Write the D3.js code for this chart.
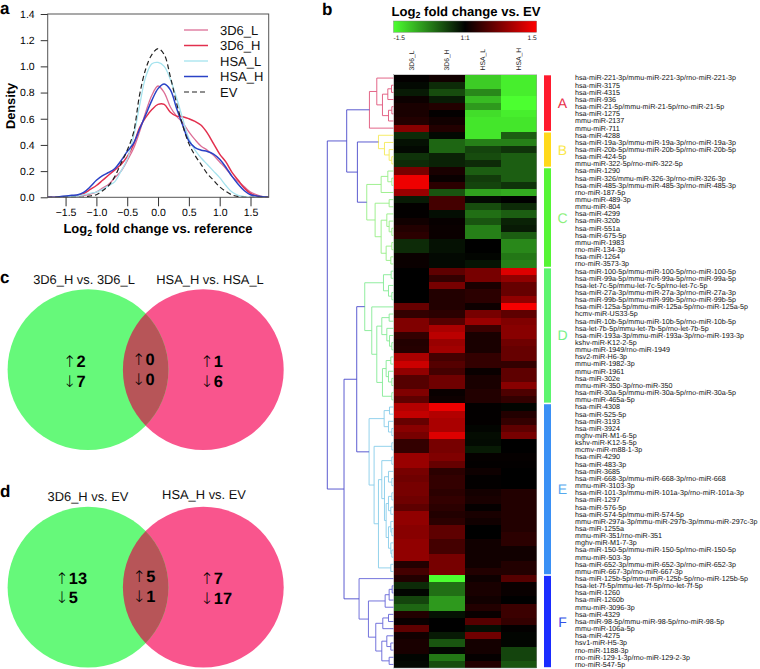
<!DOCTYPE html>
<html><head><meta charset="utf-8">
<script src="https://cdn.jsdelivr.net/npm/d3@7/dist/d3.min.js"></script>
<style>html,body{margin:0;padding:0;background:#fff}svg{display:block}text{font-family:"Liberation Sans",Arial,sans-serif;text-rendering:geometricPrecision}</style>
</head><body><svg id="c" width="760" height="669"></svg>
<script>
// ---------- density data ----------
const densityX=[-1.8,-1.7,-1.6,-1.5,-1.4,-1.3,-1.2,-1.1,-1,-.9,-.8,-.7,-.6,-.5,-.4,-.3,-.2,-.1,0,.1,.2,.3,.4,.5,.6,.7,.8,.9,1,1.1,1.2,1.3,1.4,1.5,1.6,1.7,1.8];
const d3D6_L=[0,0,.002,.005,.005,.01,.015,.025,.04,.07,.1,.15,.2,.28,.37,.5,.65,.78,.85,.8,.69,.62,.57,.5,.44,.39,.36,.32,.27,.22,.16,.12,.08,.04,.02,.005,0];
const d3D6_H=[0,0,.002,.005,.005,.015,.03,.06,.09,.13,.17,.21,.25,.31,.4,.53,.61,.67,.71,.71,.65,.62,.615,.6,.58,.55,.49,.41,.33,.27,.19,.13,.07,.03,.01,0,0];
const dHSA_L=[0,0,.002,.005,.005,.01,.02,.03,.04,.06,.09,.12,.2,.29,.46,.7,.92,1.02,1.03,1,.9,.76,.6,.45,.36,.3,.25,.2,.15,.09,.04,.015,.005,0,0,0,0];
const dHSA_H=[0,0,.005,.01,.015,.02,.04,.08,.13,.165,.19,.22,.28,.35,.41,.52,.63,.74,.83,.865,.82,.68,.55,.43,.38,.36,.35,.33,.29,.23,.16,.1,.05,.02,.01,.005,0];
const dEV=[0,0,0,0,0,0,.002,.01,.02,.05,.09,.16,.26,.36,.49,.78,.98,1.09,1.135,1.09,.92,.72,.55,.41,.32,.25,.18,.13,.08,.045,.018,.005,0,0,0,0,0];
const densityNames=["3D6_L","3D6_H","HSA_L","HSA_H","EV"];
const densitySeries=[d3D6_L,d3D6_H,dHSA_L,dHSA_H,dEV];
const densityColors=["#dc6e96","#e2304e","#a5e3ee","#2a42c6","#222"];
const densityWidths=[1.3,1.5,1.3,1.5,1.2];
const xTicks=[-1.5,-1,-.5,0,.5,1,1.5];
const yTicks=[0,.2,.4,.6,.8,1,1.2,1.4];

// ---------- heat map data (one array per column) ----------
const sampleNames=["3D6_L","3D6_H","HSA_L","HSA_H"];
const h3D6_L=[.02,-.05,-.15,.07,.15,.15,.2,.8,-.25,-.1,-.05,-.3,-.25,.7,1.4,1.4,.9,-.15,.02,.02,.1,.2,.25,-.25,-.25,.06,.06,0,0,0,0,0,.6,.3,.75,.75,.3,.2,.22,1,1.2,.85,.5,.5,.75,.55,1.05,1.15,.6,.8,.7,.3,.3,.9,.9,.7,.65,.7,.7,.65,.55,.85,.85,.8,.8,.85,.85,.85,.2,.4,.2,-.25,-.03,-.4,-.6,.2,.05,.55,.1,.15,.15,-.03,-.05];
const h3D6_H=[.1,-.25,-.45,-.15,.2,.02,.1,.2,-.05,-.6,-.6,-.2,-.2,.15,.05,.25,-.5,.4,.4,-.08,.04,.06,.06,-.1,-.1,-.05,-.05,.55,.3,.7,.2,.2,.2,.25,.5,1,1.1,.9,.95,.4,.5,.4,.65,.65,.05,.08,1.4,1.05,1,1,1.3,.7,.7,.75,.6,.25,.3,.3,.25,.3,.25,.2,.25,.55,.55,.4,.4,.7,.7,.7,-1.5,-.65,-.65,-.9,-.9,-.1,0,0,-.15,-.5,-.03,-.7,-.45];
const hHSA_L=[-1.2,-1.2,-.8,-1.1,-.9,-1.3,-1.35,-1.35,-1.35,-.75,-.4,-.45,-.25,-.55,-.35,-.4,-.95,-.05,-.45,-.65,-.5,-.75,-.75,0,0,-.03,-.12,.7,.7,.15,.25,.25,.08,.7,.9,.35,.15,.15,.15,.3,.3,.05,.15,.15,.2,.2,.02,.02,.02,-.03,-.07,-.06,-.15,.03,.02,.08,.02,.02,.12,.15,.03,.15,.1,0,0,.1,.1,.1,.1,.2,.08,.15,.15,.1,.2,.05,.5,-.08,.65,.12,.12,.03,.2];
const hHSA_H=[-1.4,-1.4,-1.4,-1.5,-1.5,-1.4,-1.35,-1.35,-.55,-.75,-.3,-.55,-.55,-.55,-.55,-.3,-1,0,-.25,-.55,-.2,-.15,-.55,-.8,-.8,-.7,-.75,1.3,.85,.6,.6,.85,1.45,.55,.75,.8,.8,.65,.6,.6,.3,.55,.55,.8,.45,.3,-.03,.2,.3,.55,.7,0,0,.03,.02,0,0,0,.2,.2,.2,.2,.2,.2,.25,.25,.1,.1,.2,.2,.5,.05,.05,0,.35,.35,.3,.02,-.03,-.03,-.4,-.4,-.5];
const heatColumns=[h3D6_L,h3D6_H,hHSA_L,hHSA_H];
const rowLabels=["hsa-miR-221-3p/mmu-miR-221-3p/rno-miR-221-3p","hsa-miR-3175","hsa-miR-4315","hsa-miR-936","hsa-miR-21-5p/mmu-miR-21-5p/rno-miR-21-5p","hsa-miR-1275","mmu-miR-2137","mmu-miR-711",
"hsa-miR-4288","hsa-miR-19a-3p/mmu-miR-19a-3p/rno-miR-19a-3p","hsa-miR-20b-5p/mmu-miR-20b-5p/rno-miR-20b-5p","hsa-miR-424-5p","mmu-miR-322-5p/rno-miR-322-5p",
"hsa-miR-1290","hsa-miR-326/mmu-miR-326-3p/rno-miR-326-3p","hsa-miR-485-3p/mmu-miR-485-3p/rno-miR-485-3p","rno-miR-187-5p","mmu-miR-489-3p","mmu-miR-804","hsa-miR-4299","hsa-miR-320b","hsa-miR-551a","hsa-miR-675-5p","mmu-miR-1983","rno-miR-134-3p","hsa-miR-1264","rno-miR-3573-3p",
"hsa-miR-100-5p/mmu-miR-100-5p/rno-miR-100-5p","hsa-miR-99a-5p/mmu-miR-99a-5p/rno-miR-99a-5p","hsa-let-7c-5p/mmu-let-7c-5p/rno-let-7c-5p","hsa-miR-27a-3p/mmu-miR-27a-3p/rno-miR-27a-3p","hsa-miR-99b-5p/mmu-miR-99b-5p/rno-miR-99b-5p","hsa-miR-125a-5p/mmu-miR-125a-5p/rno-miR-125a-5p","hcmv-miR-US33-5p","hsa-miR-10b-5p/mmu-miR-10b-5p/rno-miR-10b-5p","hsa-let-7b-5p/mmu-let-7b-5p/rno-let-7b-5p","hsa-miR-193a-3p/mmu-miR-193a-3p/rno-miR-193-3p","kshv-miR-K12-2-5p","mmu-miR-1949/rno-miR-1949","hsv2-miR-H6-3p","mmu-miR-1982-3p","mmu-miR-1961","hsa-miR-302e","mmu-miR-350-3p/rno-miR-350","hsa-miR-30a-5p/mmu-miR-30a-5p/rno-miR-30a-5p","mmu-miR-465a-5p",
"hsa-miR-4308","hsa-miR-525-5p","hsa-miR-3193","hsa-miR-3924","mghv-miR-M1-6-5p","kshv-miR-K12-5-5p","mcmv-miR-m88-1-3p","hsa-miR-4290","hsa-miR-483-3p","hsa-miR-3685","hsa-miR-668-3p/mmu-miR-668-3p/rno-miR-668","mmu-miR-3103-3p","hsa-miR-101-3p/mmu-miR-101a-3p/rno-miR-101a-3p","hsa-miR-1297","hsa-miR-576-5p","hsa-miR-574-5p/mmu-miR-574-5p","mmu-miR-297a-3p/mmu-miR-297b-3p/mmu-miR-297c-3p","hsa-miR-1255a","mmu-miR-351/rno-miR-351","mghv-miR-M1-7-3p","hsa-miR-150-5p/mmu-miR-150-5p/rno-miR-150-5p","mmu-miR-503-3p","hsa-miR-652-3p/mmu-miR-652-3p/rno-miR-652-3p","mmu-miR-667-3p/rno-miR-667-3p",
"hsa-miR-125b-5p/mmu-miR-125b-5p/rno-miR-125b-5p","hsa-let-7f-5p/mmu-let-7f-5p/rno-let-7f-5p","hsa-miR-1260","hsa-miR-1260b","mmu-miR-3096-3p","hsa-miR-4329","hsa-miR-98-5p/mmu-miR-98-5p/rno-miR-98-5p","mmu-miR-106a-5p","hsa-miR-4275","hsv1-miR-H5-3p","rno-miR-1188-3p","rno-miR-129-1-3p/rno-miR-129-2-3p","rno-miR-547-5p"];

// clusters: name, first row, last row
const clusterNames=["A","B","C","D","E","F"];
const clusterFirst=[0,8,13,27,46,70];
const clusterLast=[7,12,26,45,69,82];
const clusterBarColors=["#ff1a2e","#ffd91a","#55f535","#5cf56e","#3a90f5","#1a2cff"];
const clusterLetterColors=["#e8304a","#fbe84a","#8df07c","#74f088","#55a8ee","#3350e6"];
const clusterTreeColors=["#e0557a","#f5ea58","#95ee85","#85eb95","#88cdea","#6464d8"];
const stemColor="#4a4acb";

// dendrogram: [merge level, child, child]; a plain number is a row
const treeA=[148,[170,0,[187,[203,[214,1,2],3],[205,[215,4,5],6]]],7];
const treeB=[175,8,[193,9,[207,10,[215,11,12]]]];
const treeC=[140,[183,[203,13,[215,14,15]],16],[165,[207,17,18],[183,[200,19,[207,20,[215,21,22]]],[198,[215,23,24],[212,25,26]]]]];
const treeD=[134,[190,[213,27,28],[205,29,[215,30,31]]],[155,32,[170,[185,[207,33,34],[200,35,[208,36,[215,37,38]]]],[187,[198,[212,39,40],[205,41,[215,42,43]]],[215,44,45]]]]];
const treeE=[147,[192,[208,46,47],[205,48,[215,49,50]]],[162,[215,51,52],[175,[185,[215,53,54],[193,[205,55,[215,56,57]],[198,[205,[215,58,59],[212,60,61]],[205,[212,62,[215,63,64]],[212,65,[215,66,67]]]]]],[212,68,69]]]];
const treeF=[117,70,[145,[195,[207,[216,71,72],73],74],[167,[188,[205,75,76],77],[185,[200,78,[212,79,80]],[207,81,82]]]]];
const clusterTrees=[treeA,treeB,treeC,treeD,treeE,treeF];
const stemLevels={root:22,upper:80,abc:112,lower:72,de:110};

// Venn data
const vennLabels=[["3D6_H vs. 3D6_L","HSA_H vs. HSA_L"],["3D6_H vs. EV","HSA_H vs. EV"]];
const vennCounts=[[["↑","2"],["↓","7"],["↑","0"],["↓","0"],["↑","1"],["↓","6"]],[["↑","13"],["↓","5"],["↑","5"],["↓","1"],["↑","7"],["↓","17"]]];

// ---------- drawing ----------
const svg=d3.select("#c");
const ink="#000";
function panelLetter(t,x,y){svg.append("text").attr("x",x).attr("y",y).attr("font-size",17).attr("font-weight","bold").text(t);}
panelLetter("a",0,14);panelLetter("b",322,15);panelLetter("c",0,283);panelLetter("d",0,497);

// panel a
const x=d3.scaleLinear().domain([-1.79,1.795]).range([47.7,268.7]);
const y=d3.scaleLinear().domain([0,1.4]).range([197.3,14]);
const gA=svg.append("g");
const defs=svg.append("defs");
defs.append("clipPath").attr("id","frameClip").append("rect").attr("x",x.range()[0]).attr("y",y.range()[1]).attr("width",x.range()[1]-x.range()[0]).attr("height",y.range()[0]-y.range()[1]);
const line=d3.line().curve(d3.curveCatmullRom.alpha(.5));
const gLines=gA.append("g").attr("clip-path","url(#frameClip)");
gLines.selectAll("path").data(densitySeries).join("path").attr("fill","none")
 .attr("d",s=>line(s.map((v,i)=>[x(densityX[i]),y(v)])))
 .attr("stroke",(d,i)=>densityColors[i]).attr("stroke-width",(d,i)=>densityWidths[i])
 .attr("stroke-dasharray",(d,i)=>i==4?"5 3":null);
gA.append("rect").attr("x",x.range()[0]).attr("y",y.range()[1]).attr("width",x.range()[1]-x.range()[0]).attr("height",y.range()[0]-y.range()[1]).attr("fill","none").attr("stroke","#555").attr("stroke-width",1);
const gx=gA.append("g").attr("transform",`translate(0,${y(0)})`).call(d3.axisBottom(x).tickValues(xTicks).tickSize(9).tickPadding(2).tickFormat(d3.format(".1f")));
const gy=gA.append("g").attr("transform",`translate(${x.range()[0]},0)`).call(d3.axisLeft(y).tickValues(yTicks).tickSize(7).tickPadding(6).tickFormat(d3.format(".1f")));
[gx,gy].forEach(g=>{g.select(".domain").remove();g.selectAll("line").attr("stroke","#333");g.selectAll("text").attr("font-size",10.5).attr("fill",ink).attr("font-family","Liberation Sans");});
gA.append("text").attr("transform","translate(14.5,106) rotate(-90)").attr("text-anchor","middle").attr("font-size",12.8).attr("font-weight","bold").text("Density");
function log2Title(g,xp,yp,size,rest,anchor){
 const t=g.append("text").attr("x",xp).attr("y",yp).attr("font-size",size).attr("font-weight","bold").attr("text-anchor",anchor);
 t.append("tspan").text("Log");
 t.append("tspan").attr("dy",2.5).attr("font-size",size*.68).text("2");
 t.append("tspan").attr("dy",-2.5).text(" "+rest);
}
log2Title(gA,158,233,13,"fold change vs. reference","middle");
const legendY=d3.scalePoint().domain(densityNames).range([30,92]);
const gLeg=gA.append("g");
gLeg.selectAll("line").data(densityNames).join("line").attr("x1",184).attr("x2",208).attr("y1",d=>legendY(d)).attr("y2",d=>legendY(d))
 .attr("stroke",(d,i)=>densityColors[i]).attr("stroke-width",(d,i)=>densityWidths[i]).attr("stroke-dasharray",(d,i)=>i==4?"5 3":null);
gLeg.selectAll("text").data(densityNames).join("text").attr("x",220).attr("y",d=>legendY(d)+4.5).attr("font-size",13).attr("fill","#111").text(d=>d);

// panel b
const hx=d3.scaleBand().domain(sampleNames).range([393.5,536.5]);
const hy=d3.scaleBand().domain(d3.range(rowLabels.length)).range([74.5,668]);
const heatColor=d3.scaleLinear().domain([-1.5,0,1.5]).range(["#4cff30","#000000","#ff0000"]);
log2Title(svg,391.5,15.5,13.1,"fold change vs. EV","start");
const grad=defs.append("linearGradient").attr("id","cb");
[-1.5,-1.2,-.9,-.6,-.3,0,.3,.6,.9,1.2,1.5].forEach(v=>grad.append("stop").attr("offset",(v+1.5)/3).attr("stop-color",heatColor(v)));
const cbX=d3.scaleLinear().domain([-1.5,1.5]).range([393.5,536.7]);
svg.append("rect").attr("x",cbX(-1.5)).attr("y",21).attr("width",cbX(1.5)-cbX(-1.5)).attr("height",11.3).attr("fill","url(#cb)").attr("stroke","#777").attr("stroke-width",.4);
const cbTicks=[[-1.5,"-1.5","start"],[0,"1:1","middle"],[1.5,"1.5","end"]];
svg.append("g").selectAll("text").data(cbTicks).join("text").attr("x",d=>cbX(d[0])).attr("y",39.5).attr("text-anchor",d=>d[2]).attr("font-size",6.6).attr("fill","#222").text(d=>d[1]);
svg.append("g").selectAll("text").data(sampleNames).join("text")
 .attr("transform",d=>`translate(${hx(d)+hx.bandwidth()/2+2.3},70.5) rotate(-90)`).attr("font-size",6.8).attr("fill","#222").text(d=>d);
const gHeat=svg.append("g").attr("shape-rendering","crispEdges");
heatColumns.forEach((col,c)=>{
 gHeat.append("g").selectAll("rect").data(col).join("rect")
  .attr("x",hx(sampleNames[c])).attr("y",(d,i)=>hy(i)).attr("width",hx.bandwidth()+.3).attr("height",hy.bandwidth()+.3).attr("fill",d=>heatColor(d));
});
svg.append("rect").attr("x",393.5).attr("y",74.5).attr("width",143).attr("height",593.5).attr("fill","none").attr("stroke","#999").attr("stroke-width",.5);
svg.append("g").selectAll("text").data(rowLabels).join("text").attr("x",575).attr("y",(d,i)=>hy(i)+hy.bandwidth()/2+2.4).attr("font-size",7.17).attr("fill","#111").text(d=>d);
// cluster bars and letters
svg.append("g").selectAll("rect").data(clusterNames).join("rect").attr("x",544).attr("width",7)
 .attr("y",(d,i)=>hy(clusterFirst[i])+.8).attr("height",(d,i)=>hy(clusterLast[i])+hy.bandwidth()-hy(clusterFirst[i])-1.6).attr("fill",(d,i)=>clusterBarColors[i]);
svg.append("g").selectAll("text").data(clusterNames).join("text").attr("x",562.5).attr("text-anchor","middle")
 .attr("y",(d,i)=>(hy(clusterFirst[i])+hy(clusterLast[i])+hy.bandwidth())/2+5).attr("font-size",14).attr("fill",(d,i)=>clusterLetterColors[i]).text(d=>d);
// dendrogram
const lx=d3.scaleLinear().domain([22,220]).range([327.3,393.5]);
const gTree=svg.append("g").attr("fill","none").attr("stroke-width",.9);
function drawNode(n,color){
 if(typeof n==="number")return hy(n)+hy.bandwidth()/2;
 const [lev,a,b]=n;
 const ya=drawSub(a,lev,color),yb=drawSub(b,lev,color);
 gTree.append("path").attr("stroke",color).attr("d",`M${lx(lev)},${ya}V${yb}`);
 return (ya+yb)/2;
}
function drawSub(child,lev,color){
 const cy=drawNode(child,color);
 const end=typeof child==="number"?220:child[0];
 gTree.append("path").attr("stroke",color).attr("d",`M${lx(lev)},${cy}H${lx(end)}`);
 return cy;
}
function drawCluster(i){return drawNode(clusterTrees[i],clusterTreeColors[i]);}
function join(lev,ya,endA,yb,endB){
 const p=d3.path();p.moveTo(lx(endA),ya);p.lineTo(lx(lev),ya);p.lineTo(lx(lev),yb);p.lineTo(lx(endB),yb);
 gTree.append("path").attr("stroke",stemColor).attr("d",p.toString());
 return (ya+yb)/2;
}
const yA=drawCluster(0),yB=drawCluster(1),yC=drawCluster(2),yD=drawCluster(3),yE=drawCluster(4),yF=drawCluster(5);
const yBC=join(stemLevels.abc,yB,treeB[0],yC,treeC[0]);
const yABC=join(stemLevels.upper,yA,treeA[0],yBC,stemLevels.abc);
const yDE=join(stemLevels.de,yD,treeD[0],yE,treeE[0]);
const yDEF=join(stemLevels.lower,yDE,stemLevels.de,yF,treeF[0]);
join(stemLevels.root,yABC,stemLevels.upper,yDEF,stemLevels.lower);

// panels c, d
const vx=d3.scaleLinear().domain([0,1]).range([88,203.3]);
const vennY=[369.7,587.2];
const vennTitleY=[[284,284],[501,499]];
const vennTitleX=[[84,210],[88,204]];
const digitX=[[76.5,76.5,145.5,145.5,213.8,213.8],[68.8,68.8,146.2,146.2,213.8,213.8]];
const countY=[[367.3,386.7,365,385,367.3,386.7],[584,603.3,581.7,601.7,584,604]];
vennLabels.forEach((lab,k)=>{
 const g=svg.append("g");
 const id="vclip"+k;
 defs.append("clipPath").attr("id",id).append("circle").attr("cx",vx(0)).attr("cy",vennY[k]).attr("r",80.4);
 g.append("circle").attr("cx",vx(1)).attr("cy",vennY[k]).attr("r",80.4).attr("fill","#f9558d");
 g.append("circle").attr("cx",vx(0)).attr("cy",vennY[k]).attr("r",80.4).attr("fill","#66f97a");
 g.append("circle").attr("cx",vx(1)).attr("cy",vennY[k]).attr("r",80.4).attr("fill","#b75558").attr("clip-path",`url(#${id})`);
 lab.forEach((t,i)=>g.append("text").attr("x",vennTitleX[k][i]).attr("y",vennTitleY[k][i]).attr("text-anchor","middle").attr("font-size",12.9).attr("fill","#111").text(t));
 vennCounts[k].forEach((c,i)=>{
  const tx=g.append("text").attr("y",countY[k][i]).attr("fill","#000");
  tx.append("tspan").attr("x",digitX[k][i]-13.6).attr("font-size",16).attr("font-family","DejaVu Sans").attr("font-weight","200").text(c[0]);
  tx.append("tspan").attr("x",digitX[k][i]).attr("font-size",16.4).attr("font-weight","bold").text(c[1]);
 });
});
</script></body></html>
